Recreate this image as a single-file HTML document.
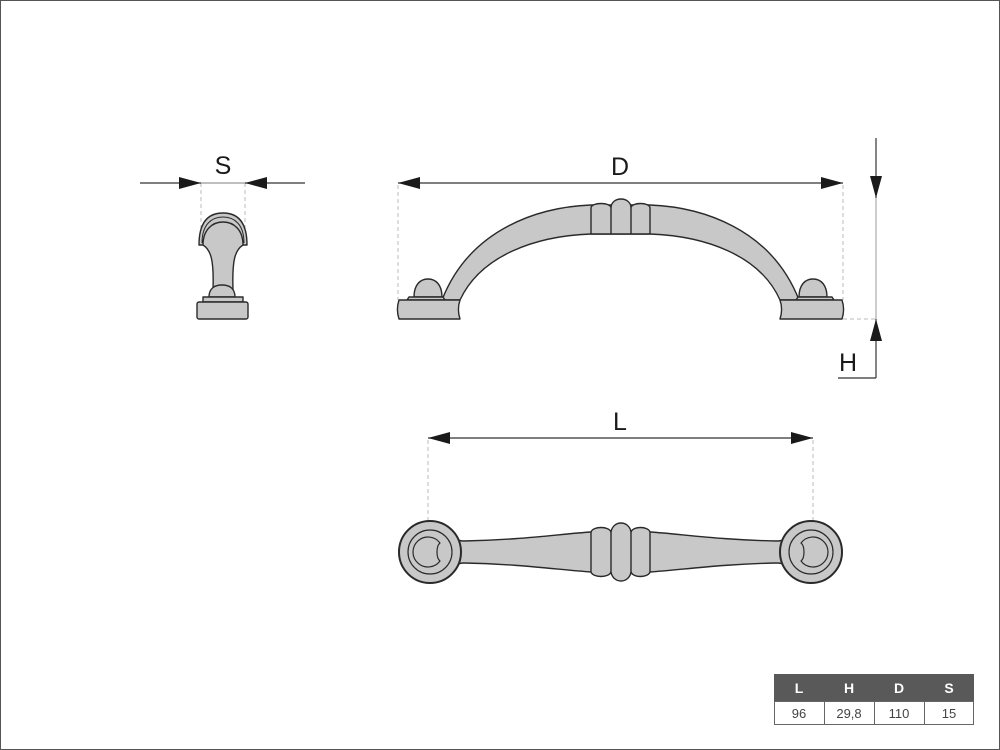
<!DOCTYPE html>
<html><head><meta charset="utf-8"><style>
html,body{margin:0;padding:0;background:#fff}
svg{display:block}
text{font-family:"Liberation Sans",Arial,sans-serif}
</style></head><body>
<svg width="1000" height="750" viewBox="0 0 1000 750" xmlns="http://www.w3.org/2000/svg">
<rect x="0.5" y="0.5" width="999" height="749" fill="#fff" stroke="#555" stroke-width="1"/>
<defs>
<marker id="ah" markerWidth="22" markerHeight="12" refX="22" refY="6" orient="auto" markerUnits="userSpaceOnUse">
<path d="M0,0 L22,6 L0,12 Z" fill="#1a1a1a"/></marker>
</defs>
<g stroke="#bbb" stroke-width="1" stroke-dasharray="4,3" fill="none">
<line x1="201" y1="183" x2="201" y2="245"/><line x1="245" y1="183" x2="245" y2="245"/>
<line x1="398" y1="185" x2="398" y2="300"/><line x1="843" y1="185" x2="843" y2="300"/>
<line x1="843" y1="319" x2="876" y2="319"/>
<line x1="428" y1="440" x2="428" y2="522"/><line x1="813" y1="440" x2="813" y2="522"/>
</g>
<g stroke="#333" stroke-width="1.2">
<line x1="140" y1="183" x2="201" y2="183" marker-end="url(#ah)"/>
<line x1="305" y1="183" x2="245" y2="183" marker-end="url(#ah)"/>
<line x1="201" y1="183" x2="245" y2="183" stroke="#999"/>
<line x1="620" y1="183" x2="398" y2="183" marker-end="url(#ah)"/>
<line x1="620" y1="183" x2="843" y2="183" marker-end="url(#ah)"/>
<line x1="620" y1="438" x2="428" y2="438" marker-end="url(#ah)"/>
<line x1="620" y1="438" x2="813" y2="438" marker-end="url(#ah)"/>
<line x1="876" y1="138" x2="876" y2="198" marker-end="url(#ah)"/>
<line x1="876" y1="198" x2="876" y2="319" stroke="#aaa"/>
<line x1="876" y1="378" x2="876" y2="319" marker-end="url(#ah)"/>
<line x1="838" y1="378" x2="876" y2="378"/>
</g>
<g font-size="25" fill="#1a1a1a" text-anchor="middle">
<text x="223" y="174">S</text>
<text x="620" y="175">D</text>
<text x="620" y="430">L</text>
<text x="848" y="371">H</text>
</g>
<g fill="#c8c8c8" stroke="#2a2a2a" stroke-width="1.4" stroke-linejoin="round">
<!-- front view -->
<path d="M199,245 C199,220 210,213 223,213 C236,213 247,220 247,245 L243,245 C243,232 235,224 223,224 C211,224 203,232 203,245 Z"/>
<path d="M202,243 C202,224 212,217 223,217 C234,217 244,224 244,243" fill="none" stroke-width="1"/>
<path d="M203,245 C203,230 212,222 223,222 C234,222 243,230 243,245 C235,250 232,260 233,290 L213,290 C214,260 211,250 203,245 Z"/>
<path d="M209,297 C209,288 215,285 222,285 C229,285 235,288 235,297 Z"/>
<rect x="203" y="297" width="40" height="5"/>
<rect x="197" y="302" width="51" height="17" rx="2"/>
<!-- side view -->
<path d="M442,300 C470,228 540,207 591,205 L650,205 C701,207 771,228 799,300 L780,300 C760,255 705,236 650,234 L591,234 C536,236 481,255 460,300 Z"/>
<path d="M591,234 L591,208 C591,202 611,202 611,208 C611,196 631,196 631,208 C631,202 650,202 650,208 L650,234 Z"/>
<line x1="611" y1="208" x2="611" y2="234"/><line x1="631" y1="208" x2="631" y2="234"/>
<path d="M414,297 C414,285 420,279 428,279 C436,279 442,285 442,297 Z"/>
<path d="M407,300 L409,297 L443,297 L445,300 Z"/>
<path d="M799,297 C799,285 805,279 813,279 C821,279 827,285 827,297 Z"/>
<path d="M796,300 L798,297 L832,297 L834,300 Z"/>
<path d="M399,300 L460,300 C458,306 458,313 460,319 L399,319 C397,313 397,306 399,300 Z"/>
<path d="M780,300 L842,300 C844,306 844,313 842,319 L780,319 C782,313 782,306 780,300 Z"/>
<!-- top view -->
<path d="M445,532 C452,537 456,541 464,541 C520,540 560,534 591,532 L650,532 C681,534 721,540 777,541 C785,541 789,537 796,532 L796,572 C789,567 785,563 777,563 C721,564 681,570 650,572 L591,572 C560,570 520,564 464,563 C456,563 452,567 445,572 Z"/>
<circle cx="430" cy="552" r="31" stroke-width="2"/>
<circle cx="811" cy="552" r="31" stroke-width="2"/>
<path d="M591,532 C593,526 609,526 611,532 C613,520 629,520 631,532 C633,526 648,526 650,532 L650,572 C648,578 633,578 631,572 C629,584 613,584 611,572 C609,578 593,578 591,572 Z"/>
<line x1="611" y1="532" x2="611" y2="572"/><line x1="631" y1="532" x2="631" y2="572"/>
<circle cx="430" cy="552" r="22" fill="none" stroke-width="1.2"/>
<path d="M440,543 A15,15 0 1 0 440,561 C436,558 436,546 440,543 Z" stroke-width="1.2"/>
<circle cx="811" cy="552" r="22" fill="none" stroke-width="1.2"/>
<path d="M801,543 A15,15 0 1 1 801,561 C805,558 805,546 801,543 Z" stroke-width="1.2"/>
</g>
<!-- table -->
<rect x="774" y="674" width="200" height="27" fill="#595959"/>
<rect x="774.5" y="701.5" width="199" height="23" fill="#fff" stroke="#666"/>
<g stroke="#666"><line x1="824.5" y1="701" x2="824.5" y2="725"/><line x1="874.5" y1="701" x2="874.5" y2="725"/><line x1="924.5" y1="701" x2="924.5" y2="725"/></g>
<g font-size="14" font-weight="bold" fill="#fff" text-anchor="middle">
<text x="799" y="693">L</text><text x="849" y="693">H</text><text x="899" y="693">D</text><text x="949" y="693">S</text></g>
<g font-size="13" fill="#444" text-anchor="middle">
<text x="799" y="718">96</text><text x="849" y="718">29,8</text><text x="899" y="718">110</text><text x="949" y="718">15</text></g>
</svg>
</body></html>
